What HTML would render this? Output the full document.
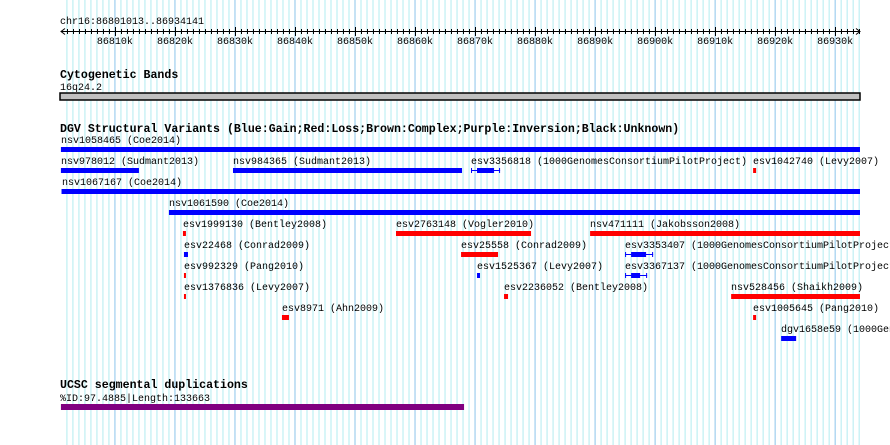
<!DOCTYPE html>
<html><head><meta charset="utf-8"><style>
html,body{margin:0;padding:0;background:#fff;width:890px;height:445px;overflow:hidden}
svg text{font-family:"Liberation Mono","DejaVu Sans Mono",monospace;font-size:10px;fill:#000}
svg text.t{font-weight:bold;font-size:11.6px}
</style></head><body>
<svg id="c" width="890" height="445" xmlns="http://www.w3.org/2000/svg"></svg>
<script>
// positions in kb
const viewStart = 86801.013;
const viewEnd = 86934.141;
const tickLabels = [86810,86820,86830,86840,86850,86860,86870,86880,86890,86900,86910,86920,86930];
// DGV features: name, start, end, row, color, thickStart, thickEnd
const featNames = ["nsv1058465 (Coe2014)","nsv978012 (Sudmant2013)","nsv984365 (Sudmant2013)","esv3356818 (1000GenomesConsortiumPilotProject)","esv1042740 (Levy2007)","nsv1067167 (Coe2014)","nsv1061590 (Coe2014)","esv1999130 (Bentley2008)","esv2763148 (Vogler2010)","nsv471111 (Jakobsson2008)","esv22468 (Conrad2009)","esv25558 (Conrad2009)","esv3353407 (1000GenomesConsortiumPilotProject)","esv992329 (Pang2010)","esv1525367 (Levy2007)","esv3367137 (1000GenomesConsortiumPilotProject)","esv1376836 (Levy2007)","esv2236052 (Bentley2008)","nsv528456 (Shaikh2009)","esv8971 (Ahn2009)","esv1005645 (Pang2010)","dgv1658e59 (1000GenomesConsortiumPilotProject)"];
const featStart = [86801.0,86801.0,86829.67,86869.33,86916.33,86801.1,86819.0,86821.33,86856.83,86889.17,86821.5,86867.67,86895.0,86821.5,86870.33,86895.0,86821.5,86874.83,86912.67,86837.83,86916.33,86921.0];
const featEnd = [86934.14,86814.0,86867.83,86874.17,86916.83,86934.14,86934.14,86821.83,86879.33,86934.14,86822.17,86873.83,86899.67,86821.83,86870.83,86898.67,86821.83,86875.5,86934.14,86839.0,86916.83,86923.5];
const featRow = [0,1,1,1,1,2,3,4,4,4,5,5,5,6,6,6,7,7,7,8,8,9];
const featType = ["gain","gain","gain","gain","loss","gain","gain","loss","loss","loss","gain","loss","gain","loss","gain","gain","loss","loss","loss","loss","loss","gain"];
const thickStart = [null,null,null,86870.33,null,null,null,null,null,null,null,null,86896.0,null,null,86896.0,null,null,null,null,null,null];
const thickEnd = [null,null,null,86873.17,null,null,null,null,null,null,null,null,86898.5,null,null,86897.5,null,null,null,null,null,null];
const segStart = 86801.0, segEnd = 86868.17;

const svg = document.getElementById('c');
const NS = 'http://www.w3.org/2000/svg';
const x = kb => 61 + (kb - viewStart) * (799 / (viewEnd - viewStart));
function mk(tag, attrs, parent){const e=document.createElementNS(NS,tag);for(const k in attrs)e.setAttribute(k,attrs[k]);(parent||svg).appendChild(e);return e;}
// grid
const grid = mk('g',{});


for(let k=Math.ceil(viewStart);k<=viewEnd;k++){
  const dark = k%10===0;
  const l = mk('line',{x1:x(k),x2:x(k),y1:0,y2:445,stroke:dark?'#8cc4ea':'#b2ecf0','stroke-width':1},grid);
  
  
}
// ruler
const ttl = mk('text',{x:60,y:24}); ttl.textContent='chr16:86801013..86934141';


const ruler = mk('g',{});


mk('line',{x1:61,x2:860,y1:31.5,y2:31.5,stroke:'#000'},ruler);
mk('path',{d:'M65,28.5 L61,31.5 L65,34.5 M856,28.5 L860,31.5 L856,34.5',stroke:'#000',fill:'none'},ruler);
for(let k=Math.ceil(viewStart);k<=viewEnd;k++){
  const big = k%10===0;
  mk('line',{x1:Math.round(x(k))+0.5,x2:Math.round(x(k))+0.5,y1:big?27:29,y2:big?36:34,stroke:'#000'},ruler);
}
tickLabels.forEach(t=>{
  const e=mk('text',{x:x(t),y:44,'text-anchor':'middle'},ruler); e.textContent=t+'k';
  
  
});
// cytoband
const cyt = mk('text',{x:60,y:78,class:'t'}); cyt.textContent='Cytogenetic Bands';


const cb = mk('text',{x:60,y:90}); cb.textContent='16q24.2';


const band = mk('rect',{x:60,y:93,width:800,height:7,fill:'#c0c0c0',stroke:'#000','stroke-width':1.5});


// DGV
const dt = mk('text',{x:60,y:132,class:'t'}); dt.textContent='DGV Structural Variants (Blue:Gain;Red:Loss;Brown:Complex;Purple:Inversion;Black:Unknown)';


featNames.forEach((n,i)=>{
  const top = 147 + featRow[i]*21;
  const col = featType[i]==='gain' ? '#0000ff' : '#ff0000';
  const g = mk('g',{});
  
  
  const lab = mk('text',{x:Math.max(60,Math.round(x(featStart[i]))),y:top-4},g); lab.textContent=n;
  const x1=x(featStart[i]), x2=x(featEnd[i]);
  if(thickStart[i]!==null){
    mk('line',{x1:x1,x2:x2,y1:top+2.5,y2:top+2.5,stroke:col,'stroke-width':1},g);
    mk('line',{x1:x1+0.5,x2:x1+0.5,y1:top,y2:top+5,stroke:col},g);
    mk('line',{x1:x2-0.5,x2:x2-0.5,y1:top,y2:top+5,stroke:col},g);
    mk('rect',{x:x(thickStart[i]),y:top,width:x(thickEnd[i])-x(thickStart[i]),height:5,fill:col},g);
  } else {
    mk('rect',{x:x1,y:top,width:Math.max(2,x2-x1),height:5,fill:col},g);
  }
});
// segdup
const st = mk('text',{x:60,y:388,class:'t'}); st.textContent='UCSC segmental duplications';


const sl = mk('text',{x:60,y:401}); sl.textContent='%ID:97.4885|Length:133663';


const sb = mk('rect',{x:x(segStart),y:404,width:x(segEnd)-x(segStart),height:6,fill:'#800080'});


</script>
</body></html>
